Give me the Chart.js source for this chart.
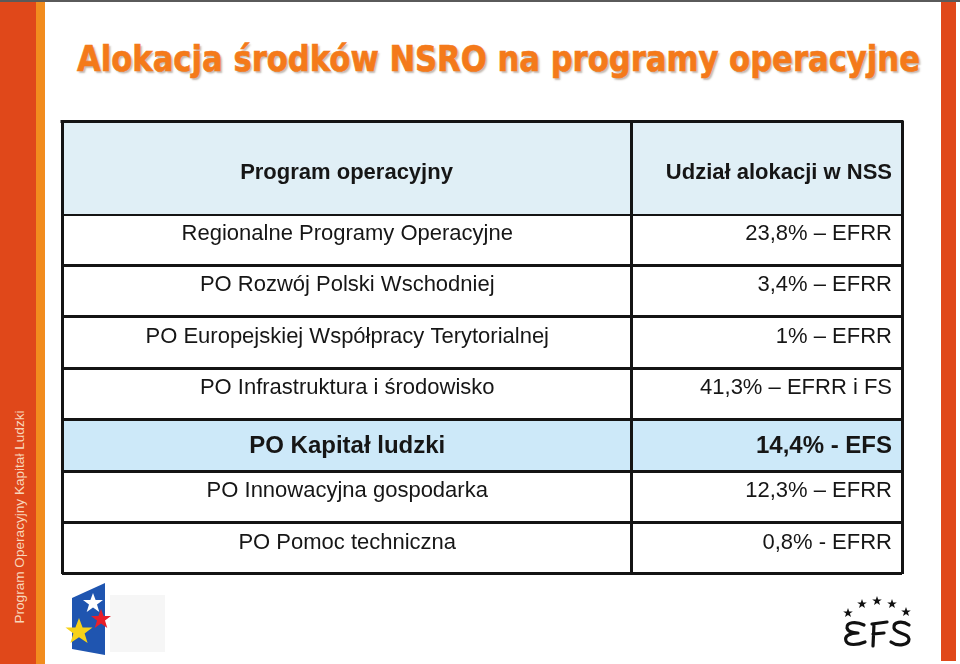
<!DOCTYPE html>
<html lang="pl">
<head>
<meta charset="utf-8">
<title>Alokacja środków NSRO na programy operacyjne</title>
<script src="https://cdn.jsdelivr.net/npm/chart.js@4.4.1/dist/chart.umd.min.js"></script>
<style>
  html, body { margin: 0; padding: 0; background: #fff; }
  .page {
    position: relative;
    width: 960px;
    height: 664px;
    overflow: hidden;
    background: #fff;
    font-family: 'Liberation Sans', Arial, sans-serif;
  }
  .topline { position: absolute; left: 0; top: 0; width: 960px; height: 2px; background: #5a5a5a; }
  .stripe-red { position: absolute; left: 0; top: 2px; width: 36px; height: 662px; background: #e0481a; }
  .stripe-orange { position: absolute; left: 36px; top: 2px; width: 9px; height: 662px; background: #f28c1e; }
  .stripe-right { position: absolute; left: 941px; top: 2px; width: 15px; height: 659px; background: #e0481a; }
  .side-text {
    position: absolute;
    left: -100px;
    top: 507px;
    width: 240px;
    height: 20px;
    line-height: 20px;
    text-align: center;
    font-size: 13.6px;
    color: #f7d6bb;
    white-space: nowrap;
    transform: rotate(-90deg);
  }
  .title {
    position: absolute;
    left: 77px;
    top: 41px;
    width: 843px;
    height: 36px;
    line-height: 36px;
    white-space: nowrap;
    font-family: 'DejaVu Sans', Verdana, sans-serif;
    font-weight: bold;
    font-size: 36px;
    color: #f47a1a;
    -webkit-text-stroke: 0.7px #f47a1a;
    text-shadow: 2px 2px 2px rgba(120, 100, 80, 0.45);
  }
  .title span { display: inline-block; transform-origin: 0 50%; }
  #table { position: absolute; left: 0; top: 0; }
  .logos { position: absolute; left: 0; top: 0; }
</style>
</head>
<body>
<div class="page">
  <div class="topline"></div>
  <div class="stripe-red"></div>
  <div class="stripe-orange"></div>
  <div class="stripe-right"></div>
  <div class="side-text">Program Operacyjny Kapitał Ludzki</div>
  <div class="title"><span id="titleText">Alokacja środków NSRO na programy operacyjne</span></div>

  <svg class="logos" width="960" height="664">
    <rect x="110" y="595" width="55" height="57" fill="#f6f6f6"/>
    <polygon points="72,598 105,583 105,655 72,649" fill="#1f55b0"/>
    <polygon points="93,593 95.6,600 103,600 97,604.5 99.3,612 93,607.5 86.7,612 89,604.5 83,600 90.4,600" fill="#ffffff"/>
    <polygon points="101,609 103.6,616 111,616 105,620.5 107.3,628 101,623.5 94.7,628 97,620.5 91,616 98.4,616" fill="#e8202a"/>
    <polygon points="79,618 82.6,627.5 92.5,627.5 84.6,633.5 87.6,643 79,637.2 70.4,643 73.4,633.5 65.5,627.5 75.4,627.5" fill="#f7d219"/>

    <g fill="#111">
      <polygon points="848,608 849.2,611.4 852.8,611.4 849.9,613.6 851,617 848,614.9 845,617 846.1,613.6 843.2,611.4 846.8,611.4"/>
      <polygon points="862,599 863.2,602.4 866.8,602.4 863.9,604.6 865,608 862,605.9 859,608 860.1,604.6 857.2,602.4 860.8,602.4"/>
      <polygon points="877,596 878.2,599.4 881.8,599.4 878.9,601.6 880,605 877,602.9 874,605 875.1,601.6 872.2,599.4 875.8,599.4"/>
      <polygon points="892,599 893.2,602.4 896.8,602.4 893.9,604.6 895,608 892,605.9 889,608 890.1,604.6 887.2,602.4 890.8,602.4"/>
      <polygon points="906,607 907.2,610.4 910.8,610.4 907.9,612.6 909,616 906,613.9 903,616 904.1,612.6 901.2,610.4 904.8,610.4"/>
    </g>
    <g fill="none" stroke="#111" stroke-width="3.2" stroke-linecap="round" stroke-linejoin="round">
      <path d="M864,625 C856,621 846,622 847,628 C848,632 853,633 858,633 C850,633 844,636 846,641 C848,646 858,645 865,642"/>
      <path d="M872,624 L887,622 M874,624 L873,646 M873,634 L884,633"/>
      <path d="M909,625 C902,620 893,622 894,628 C895,634 909,633 909,639 C909,645 898,647 891,642"/>
    </g>
  </svg>

  <canvas id="table" width="960" height="664"></canvas>
</div>

<script>
// dane tabeli
const columns = ['Program operacyjny', 'Udział alokacji w NSS'];
const programs = [
  'Regionalne Programy Operacyjne',
  'PO Rozwój Polski Wschodniej',
  'PO Europejskiej Współpracy Terytorialnej',
  'PO Infrastruktura i środowisko',
  'PO Kapitał ludzki',
  'PO Innowacyjna gospodarka',
  'PO Pomoc techniczna'
];
const shareLabels = [
  '23,8% – EFRR',
  '3,4% – EFRR',
  '1% – EFRR',
  '41,3% – EFRR i FS',
  '14,4% - EFS',
  '12,3% – EFRR',
  '0,8% - EFRR'
];
const highlighted = 'PO Kapitał ludzki';

// title squeezed to the width of the original
const titleSpan = document.getElementById('titleText');
titleSpan.style.transform = 'scaleX(' + (843 / titleSpan.offsetWidth) + ')';

const COLUMN_SPLIT = 67.74;
const HEADER_HEIGHT = 93;
const LINE_COLOR = '#141414';
const TEXT_COLOR = '#161616';
const FONT = "'Liberation Sans', Arial, sans-serif";

const rowColors = programs.map(p => p === highlighted ? '#cde9f9' : '#ffffff');

const tableText = {
  id: 'tableText',
  afterDatasetsDraw(chart) {
    const ctx = chart.ctx;
    ctx.save();
    ctx.fillStyle = TEXT_COLOR;
    ctx.textBaseline = 'alphabetic';

    chart.data.datasets.forEach((ds, di) => {
      const meta = chart.getDatasetMeta(di);
      meta.data.forEach((bar, j) => {
        const p = bar.getProps(['x', 'y', 'base', 'height'], true);
        const left = Math.min(p.x, p.base);
        const right = Math.max(p.x, p.base);
        const top = p.y - p.height / 2;
        const strong = programs[j] === highlighted;
        const baseline = strong ? p.y + 8 : top + 26;
        ctx.font = (strong ? 'bold 24px ' : '22px ') + FONT;
        if (di === 0) {
          ctx.textAlign = 'center';
          ctx.fillText(programs[j], (left + right) / 2, baseline);
        } else {
          ctx.textAlign = 'right';
          ctx.fillText(shareLabels[j], right - 10, baseline);
        }
      });
    });
    ctx.restore();
  },
  afterDraw(chart) {
    // naglowek tabeli nad obszarem wykresu
    const ctx = chart.ctx;
    const x = chart.scales.x;
    const area = chart.chartArea;
    const x0 = x.getPixelForValue(0);
    const x1 = x.getPixelForValue(COLUMN_SPLIT);
    const x2 = x.getPixelForValue(100);
    const top = area.top - HEADER_HEIGHT;

    ctx.save();
    ctx.fillStyle = '#e0eff6';
    ctx.fillRect(x0, top, x2 - x0, HEADER_HEIGHT);

    ctx.strokeStyle = LINE_COLOR;
    ctx.lineWidth = 3;
    ctx.beginPath();
    ctx.moveTo(x0 - 1.5, top + 0.5);
    ctx.lineTo(x2 + 1.5, top + 0.5);
    [x0, x1, x2].forEach(px => {
      const ax = Math.round(px - 1.5) + 1.5;
      ctx.moveTo(ax, top);
      ctx.lineTo(ax, area.top);
    });
    ctx.stroke();

    ctx.fillStyle = TEXT_COLOR;
    ctx.font = 'bold 22px ' + FONT;
    ctx.textBaseline = 'alphabetic';
    ctx.textAlign = 'center';
    ctx.fillText(columns[0], (x0 + x1) / 2, top + 58);
    ctx.textAlign = 'right';
    ctx.fillText(columns[1], x2 - 10, top + 58);
    ctx.restore();
  }
};

const ctx = document.getElementById('table');

const table = new Chart(ctx, {
  type: 'bar',
  data: {
    labels: programs,
    datasets: [
      {
        label: columns[0],
        data: programs.map(() => [0, COLUMN_SPLIT]),
        backgroundColor: rowColors,
        borderWidth: 0
      },
      {
        label: columns[1],
        data: programs.map(() => [COLUMN_SPLIT, 100]),
        backgroundColor: rowColors,
        borderWidth: 0
      }
    ]
  },
  options: {
    indexAxis: 'y',
    responsive: false,
    animation: false,
    grouped: false,
    categoryPercentage: 1,
    barPercentage: 1,
    layout: {
      padding: { left: 62, right: 58, top: 214, bottom: 90 }
    },
    scales: {
      x: {
        min: 0,
        max: 100,
        afterBuildTicks: (scale) => {
          scale.ticks = [0, COLUMN_SPLIT, 100].map(v => ({ value: v }));
        },
        ticks: { display: false },
        border: { display: false },
        grid: {
          color: LINE_COLOR,
          lineWidth: 3,
          drawTicks: false,
          z: 1
        }
      },
      y: {
        ticks: { display: false },
        border: { display: false },
        grid: {
          offset: true,
          color: LINE_COLOR,
          lineWidth: 3,
          drawTicks: false,
          z: 1
        }
      }
    },
    plugins: {
      legend: { display: false },
      tooltip: { enabled: false }
    }
  },
  plugins: [tableText]
});
</script>
</body>
</html>
